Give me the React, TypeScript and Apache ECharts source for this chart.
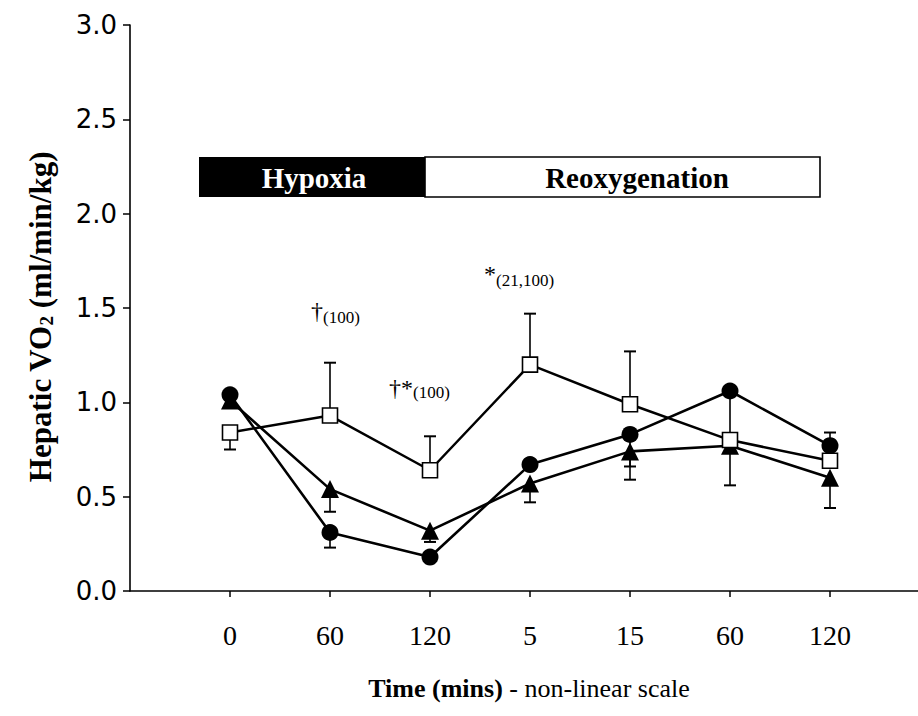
import React, { useEffect, useRef } from "react";
import * as echarts from "echarts";

const timeLabels = ["0", "60", "120", "5", "15", "60", "120"];
const timeIndex = [0, 1, 2, 3, 4, 5, 6];
const circleValues = [1.04, 0.31, 0.18, 0.67, 0.83, 1.06, 0.77];
const triangleValues = [1.01, 0.54, 0.32, 0.57, 0.74, 0.77, 0.6];
const squareValues = [0.84, 0.93, 0.64, 1.2, 0.99, 0.8, 0.69];
// error bar end values (null = no visible bar)
const circleErrEnd = [null, 0.23, null, null, 0.66, 0.56, null];
const triangleErrEnd = [null, 0.42, 0.26, 0.47, 0.59, null, 0.44];
const squareErrEnd = [0.75, 1.21, 0.82, 1.47, 1.27, null, 0.84];

const SERIF = "'Liberation Serif', 'Times New Roman', serif";

function pairs(vals: number[]) {
  return timeIndex.map((x, i) => [x, vals[i]]);
}
function errData(vals: number[], ends: (number | null)[]) {
  const out: number[][] = [];
  timeIndex.forEach((x, i) => {
    const e = ends[i];
    if (e !== null && e !== undefined) out.push([x, vals[i], e]);
  });
  return out;
}

function renderErr(params: any, api: any) {
  const x = api.value(0);
  const p0 = api.coord([x, api.value(1)]);
  const p1 = api.coord([x, api.value(2)]);
  const hw = 6;
  const style = { stroke: "#000", lineWidth: 1.6 };
  return {
    type: "group",
    children: [
      { type: "line", shape: { x1: p0[0], y1: p0[1], x2: p1[0], y2: p1[1] }, style },
      { type: "line", shape: { x1: p1[0] - hw, y1: p1[1], x2: p1[0] + hw, y2: p1[1] }, style: { stroke: "#000", lineWidth: 2 } },
    ],
  };
}

export default function App() {
  const ref = useRef<HTMLDivElement>(null);
  useEffect(() => {
    document.body.style.margin = "0";
    const chart = echarts.init(ref.current!, null, { renderer: "svg" });
    const lineStyle = { color: "#000", width: 2.6 };
    chart.setOption({
      animation: false,
      backgroundColor: "#fff",
      grid: { left: 130, right: 0, top: 25, bottom: 125 },
      xAxis: {
        type: "value",
        min: -1,
        max: 6.88,
        interval: 1,
        splitLine: { show: false },
        axisLine: { onZero: false, lineStyle: { color: "#000", width: 1.6 } },
        axisTick: { show: true, length: 6, customValues: timeIndex, lineStyle: { color: "#000", width: 1.5 } },
        axisLabel: {
          customValues: timeIndex,
          formatter: (v: number) => timeLabels[Math.round(v)] ?? "",
          fontFamily: SERIF,
          fontSize: 28,
          color: "#000",
          margin: 30,
        },
        name: "{b|Time (mins)} - non-linear scale",
        nameLocation: "middle",
        nameGap: 84,
        nameTextStyle: {
          fontFamily: SERIF,
          fontSize: 26,
          color: "#000",
          padding: [0, 0, 0, 10],
          rich: { b: { fontFamily: SERIF, fontSize: 26, fontWeight: "bold", color: "#000" } },
        },
      },
      yAxis: {
        type: "value",
        min: 0,
        max: 3,
        interval: 0.5,
        splitLine: { show: false },
        axisLine: { show: true, onZero: false, lineStyle: { color: "#000", width: 1.6 } },
        axisTick: { show: true, length: 7, lineStyle: { color: "#000", width: 1.5 } },
        axisLabel: {
          formatter: (v: number) => v.toFixed(1),
          fontFamily: "'DejaVu Sans', sans-serif",
          fontSize: 26,
          color: "#000",
          margin: 13,
        },
        name: "{b|Hepatic VO}{s|2}{b| (ml/min/kg)}",
        nameLocation: "middle",
        nameGap: 74,
        nameTextStyle: {
          padding: [0, 18, 0, 0],
          rich: {
            b: { fontFamily: SERIF, fontSize: 31, fontWeight: "bold", color: "#000" },
            s: { fontFamily: SERIF, fontSize: 19, fontWeight: "bold", color: "#000", verticalAlign: "bottom", padding: [12, 0, 0, 0] },
          },
        },
      },
      series: [
        { type: "custom", renderItem: renderErr, data: errData(squareValues, squareErrEnd), z: 1, encode: { x: 0, y: [1, 2] } },
        { type: "custom", renderItem: renderErr, data: errData(triangleValues, triangleErrEnd), z: 1, encode: { x: 0, y: [1, 2] } },
        { type: "custom", renderItem: renderErr, data: errData(circleValues, circleErrEnd), z: 1, encode: { x: 0, y: [1, 2] } },
        {
          type: "line",
          data: pairs(circleValues),
          symbol: "circle",
          symbolSize: 17,
          lineStyle,
          itemStyle: { color: "#000" },
          z: 3,
        },
        {
          type: "line",
          data: pairs(triangleValues),
          symbol: "triangle",
          symbolSize: 18,
          lineStyle,
          itemStyle: { color: "#000" },
          z: 3,
        },
        {
          type: "line",
          data: pairs(squareValues),
          symbol: "rect",
          symbolSize: 15,
          lineStyle: { color: "#000", width: 2.5 },
          itemStyle: { color: "#fff", borderColor: "#000", borderWidth: 1.6 },
          z: 4,
        },
      ],
      graphic: [
        { type: "rect", shape: { x: 199, y: 157, width: 226, height: 40 }, style: { fill: "#000" } },
        { type: "rect", shape: { x: 425, y: 157, width: 395, height: 40 }, style: { fill: "#fff", stroke: "#000", lineWidth: 1.6 } },
        { type: "text", x: 314, y: 178, style: { text: "Hypoxia", font: `bold 29px ${SERIF}`, fill: "#fff", align: "center", verticalAlign: "middle" } },
        { type: "text", x: 637, y: 178, style: { text: "Reoxygenation", font: `bold 29px ${SERIF}`, fill: "#000", align: "center", verticalAlign: "middle" } },
        { type: "text", x: 311, y: 299, style: { text: "†", font: `24px ${SERIF}`, fill: "#000" } },
        { type: "text", x: 323, y: 309, style: { text: "(100)", font: `17px ${SERIF}`, fill: "#000" } },
        { type: "text", x: 389, y: 376, style: { text: "†*", font: `24px ${SERIF}`, fill: "#000" } },
        { type: "text", x: 413, y: 384, style: { text: "(100)", font: `17px ${SERIF}`, fill: "#000" } },
        { type: "text", x: 484, y: 262, style: { text: "*", font: `24px ${SERIF}`, fill: "#000" } },
        { type: "text", x: 496, y: 272, style: { text: "(21,100)", font: `17px ${SERIF}`, fill: "#000" } },
      ],
    });
    return () => chart.dispose();
  }, []);
  return <div ref={ref} style={{ width: 918, height: 716 }} />;
}
